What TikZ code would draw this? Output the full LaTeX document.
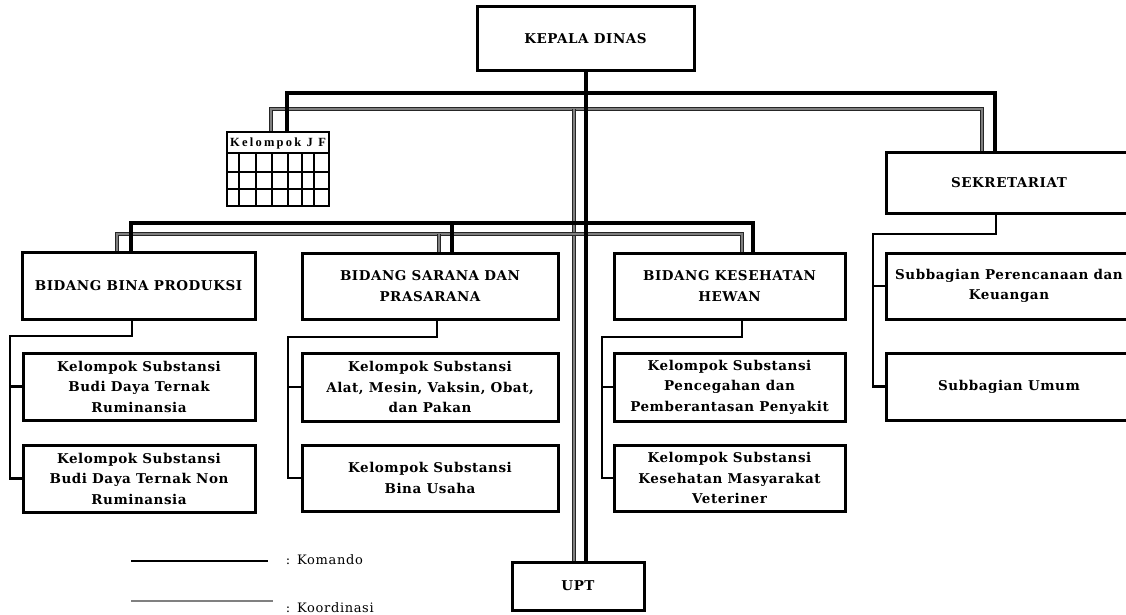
\documentclass[tikz,border=0pt]{standalone}
\usepackage{fontspec}
\setmainfont{DejaVu Serif}
\newfontfamily\boxfont[LetterSpace=4]{DejaVu Serif}
\newfontfamily\jffont[LetterSpace=18]{Liberation Serif}
\newfontfamily\legfont[LetterSpace=5]{DejaVu Serif}
\usetikzlibrary{backgrounds}
\begin{document}
\begin{tikzpicture}[x=1pt,y=-1pt,
 box/.style={draw, line width=3pt, rectangle, inner sep=0pt, align=center,
   font=\boxfont\bfseries\fontsize{13.5}{20.5}\selectfont},
 cmd/.style={line width=3.1pt},
 sub/.style={line width=2.4pt},
 koor/.style={draw=black!85, line width=0.7pt, double=black!50, double distance=2.2pt},
 legtext/.style={font=\legfont\fontsize{13}{15}\selectfont, inner sep=0pt},
 jfgrid/.style={line width=2pt},
]
\useasboundingbox (0,0) rectangle (1126,615);

% boxes
\node[box, minimum width=217pt, minimum height=64pt] (kd) at (585.5,39) {KEPALA DINAS};
\node[box, minimum width=246pt, minimum height=61pt] (sek) at (1009,182.5) {SEKRETARIAT};
\node[box, minimum width=246pt, minimum height=66pt] (sb1) at (1009,286) {Subbagian Perencanaan dan\\Keuangan};
\node[box, minimum width=246pt, minimum height=67pt] (sb2) at (1009,386.5) {Subbagian Umum};

\node[box, minimum width=233pt, minimum height=67pt] (bp) at (138.5,285.5) {BIDANG BINA PRODUKSI};
\node[box, minimum width=232pt, minimum height=67pt] (bp1) at (139,386.5) {Kelompok Substansi\\Budi Daya Ternak\\Ruminansia};
\node[box, minimum width=232pt, minimum height=67pt] (bp2) at (139,478.5) {Kelompok Substansi\\Budi Daya Ternak Non\\Ruminansia};

\node[box, minimum width=256pt, minimum height=66pt] (sp) at (430,286) {BIDANG SARANA DAN\\PRASARANA};
\node[box, minimum width=256pt, minimum height=68pt] (sp1) at (430,387) {Kelompok Substansi\\Alat, Mesin, Vaksin, Obat,\\dan Pakan};
\node[box, minimum width=256pt, minimum height=66pt] (sp2) at (430,478) {Kelompok Substansi\\Bina Usaha};

\node[box, minimum width=231pt, minimum height=66pt] (kh) at (729.5,286) {BIDANG KESEHATAN\\HEWAN};
\node[box, minimum width=231pt, minimum height=68pt] (kh1) at (729.5,387) {Kelompok Substansi\\Pencegahan dan\\Pemberantasan Penyakit};
\node[box, minimum width=231pt, minimum height=66pt] (kh2) at (729.5,478) {Kelompok Substansi\\Kesehatan Masyarakat\\Veteriner};

\node[box, minimum width=132pt, minimum height=48pt] (upt) at (578,586) {UPT};

% Kelompok JF table
\node[draw, line width=2.4pt, minimum width=102pt, minimum height=74pt, inner sep=0pt] (jf) at (278,169) {};
\node[font=\jffont\bfseries\fontsize{12.5}{13}\selectfont, inner sep=0pt] (jft) at (278,143) {Kelompok J F};
\draw[jfgrid] (227,153) -- (329,153) (227,172) -- (329,172) (227,189) -- (329,189);
\foreach \xx in {239,256,272,288,302,314} \draw[jfgrid] (\xx,153) -- (\xx,206);

% legend
\coordinate (l1) at (131,561); \coordinate (l2) at (268,561);
\draw[line width=1.8pt] (l1) -- (l2);
\node[legtext, anchor=base] (lc1) at (288,564) {:};
\node[legtext, anchor=base west] (lt1) at (297,564) {Komando};
\coordinate (l3) at (131,601); \coordinate (l4) at (273,601);
\draw[koor, line width=0.5pt, double distance=1.4pt] (l3) -- (l4);
\node[legtext, anchor=base] (lc2) at (288,612) {:};
\node[legtext, anchor=base west] (lt2) at (297,612) {Koordinasi};

\begin{pgfonlayer}{background}
\fill[white] (0,0) rectangle (1126,615);
% coordination lines
\coordinate (kA) at (271,109); \coordinate (kB) at (982,109); \coordinate (kM) at (574,109);
\draw[koor] (kA |- jf.north) -- (kA) -- (kB) -- (kB |- sek.north);
\draw[koor] (kM) -- (kM |- upt.north);
\coordinate (kC) at (117,234); \coordinate (kD) at (742,234); \coordinate (kE) at (439,234);
\draw[koor] (kC |- bp.north) -- (kC) -- (kD) -- (kD |- kh.north);
\draw[koor] (kE) -- (kE |- sp.north);
% command lines
\coordinate (cA) at (287,93); \coordinate (cB) at (995,93); \coordinate (cM) at (586,93);
\draw[cmd] (cA |- jf.north) -- (cA) -- (cB) -- (cB |- sek.north);
\draw[cmd] (cM |- kd.south) -- (cM |- upt.north);
\coordinate (cC) at (131,223); \coordinate (cD) at (753,223); \coordinate (cE) at (452,223);
\draw[cmd] (cC |- bp.north) -- (cC) -- (cD) -- (cD |- kh.north);
\draw[cmd] (cE) -- (cE |- sp.north);
% column branches
\coordinate (p1) at (132,336); \coordinate (p2) at (10,336);
\draw[sub] (p1 |- bp.south) -- (p1) -- (p2) |- (bp2.west);
\draw[sub] (p2 |- bp1.west) -- (bp1.west);
\coordinate (s1) at (437,337); \coordinate (s2) at (288,337);
\draw[sub] (s1 |- sp.south) -- (s1) -- (s2) |- (sp2.west);
\draw[sub] (s2 |- sp1.west) -- (sp1.west);
\coordinate (h1) at (742,337); \coordinate (h2) at (602,337);
\draw[sub] (h1 |- kh.south) -- (h1) -- (h2) |- (kh2.west);
\draw[sub] (h2 |- kh1.west) -- (kh1.west);
\coordinate (q1) at (996,234); \coordinate (q2) at (873,234);
\draw[sub] (q1 |- sek.south) -- (q1) -- (q2) |- (sb2.west);
\draw[sub] (q2 |- sb1.west) -- (sb1.west);
\end{pgfonlayer}
\end{tikzpicture}
\end{document}
